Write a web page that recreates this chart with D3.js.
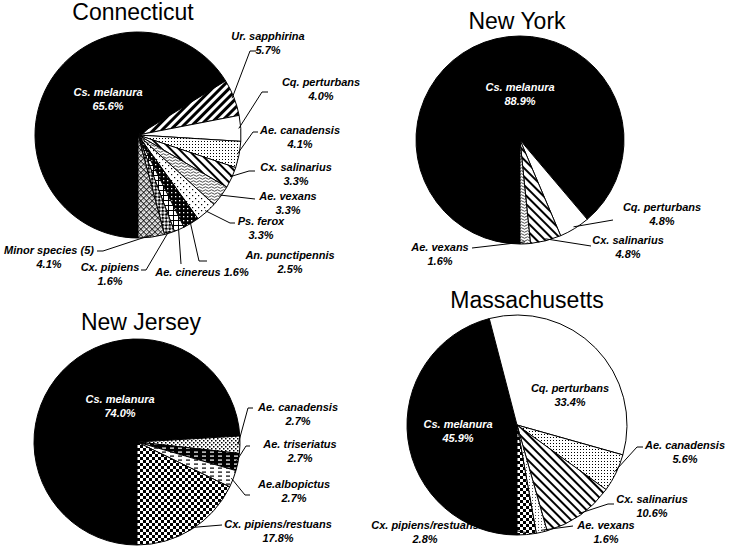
<!DOCTYPE html>
<html>
<head>
<meta charset="utf-8">
<script src="https://cdn.jsdelivr.net/npm/d3@7"></script>
<style>
  html, body { margin: 0; padding: 0; background: #fff; }
  svg { display: block; }
  .title { font-family: "Liberation Sans", Arial, sans-serif; font-size: 23px; fill: #000; }
  .lbl { font-family: "Liberation Sans", Arial, sans-serif; font-size: 11px; font-weight: bold; font-style: italic; fill: #000; }
  .lbl-in { font-family: "Liberation Sans", Arial, sans-serif; font-size: 11px; font-weight: bold; font-style: italic; fill: #fff; }
</style>
</head>
<body>
<svg id="chart" width="730" height="554"></svg>
<script>
// ---------------- DATA ----------------
const ctCategories = ["Cs. melanura", "Ur. sapphirina", "Cq. perturbans", "Ae. canadensis", "Cx. salinarius",
  "Ae. vexans", "Ps. ferox", "An. punctipennis", "Ae. cinereus", "Cx. pipiens", "Minor species (5)"];
const ctValues = [65.6, 5.7, 4.0, 4.1, 3.3, 3.3, 3.3, 2.5, 1.6, 1.6, 4.1];

const nyCategories = ["Cs. melanura", "Cq. perturbans", "Cx. salinarius", "Ae. vexans"];
const nyValues = [88.9, 4.8, 4.8, 1.6];

const njCategories = ["Cs. melanura", "Ae. canadensis", "Ae. triseriatus", "Ae.albopictus", "Cx. pipiens/restuans"];
const njValues = [74.0, 2.7, 2.7, 2.7, 17.8];

const maCategories = ["Cs. melanura", "Cq. perturbans", "Ae. canadensis", "Cx. salinarius", "Ae. vexans", "Cx. pipiens/restuans"];
const maValues = [45.9, 33.4, 5.6, 10.6, 1.6, 2.8];

const stateTitles = ["Connecticut", "New York", "New Jersey", "Massachusetts"];

// ---------------- STYLE / LAYOUT ----------------
const ctFills = ["black", "stripeFwdThick", "white", "fineDots", "stripeBack", "wavy", "sparseDots", "darkDots", "grid", "checkDiag", "trellis"];
const nyFills = ["black", "white", "stripeBack", "wavy"];
const njFills = ["black", "denseDots", "darkDash", "lightDash", "checker"];
const maFills = ["black", "white", "fineDots", "stripeBack", "lightDots", "checker"];

const layouts = [
  { cx: 138, cy: 135, r: 103, title: { x: 133, y: 20 },
    inside: [{ i: 0, x: 108, y: 96 }],
    outside: [
      { i: 1, x: 268, y: 40, pts: [[256, 51], [250, 51]] },
      { i: 2, x: 321, y: 86, pts: [[268, 92], [262, 92]] },
      { i: 3, x: 300, y: 134, pts: [[258, 132], [253, 132]] },
      { i: 4, x: 296, y: 171, pts: [[255, 171], [249, 171]] },
      { i: 5, x: 288, y: 200, pts: [[255, 199]] },
      { i: 6, x: 261, y: 225, pts: [[235, 223], [230, 223]] },
      { i: 7, x: 290, y: 259, pts: [[207, 261], [199, 261]] },
      { i: 8, x: 202, y: 276, single: true, pts: [[181, 264]] },
      { i: 9, x: 110, y: 271, pts: [[141, 270], [146, 270]] },
      { i: 10, x: 49, y: 254, pts: [[97, 251], [103, 251]] }
    ] },
  { cx: 520, cy: 140, r: 104, title: { x: 517, y: 29 },
    inside: [{ i: 0, x: 520, y: 91 }],
    outside: [
      { i: 1, x: 662, y: 211, pts: [[613, 220]] },
      { i: 2, x: 628, y: 244, pts: [[591, 246]] },
      { i: 3, x: 440, y: 251, pts: [[472, 248]] }
    ] },
  { cx: 137, cy: 442, r: 103, title: { x: 141, y: 330 },
    inside: [{ i: 0, x: 120, y: 403 }],
    outside: [
      { i: 1, x: 298, y: 411, pts: [[253, 408], [248, 408]] },
      { i: 2, x: 300, y: 448, pts: [[250, 446], [246, 446]] },
      { i: 3, x: 294, y: 488, pts: [[250, 495], [245, 495]] },
      { i: 4, x: 278, y: 528, pts: [[222, 525]] }
    ] },
  { cx: 517, cy: 425, r: 110, title: { x: 527, y: 308 },
    inside: [{ i: 0, x: 458, y: 428 }, { i: 1, x: 570, y: 392 }],
    outside: [
      { i: 2, x: 685, y: 449, pts: [[643, 447], [637, 447]] },
      { i: 3, x: 652, y: 503, pts: [[614, 504], [608, 504]] },
      { i: 4, x: 606, y: 529, pts: [[573, 526]] },
      { i: 5, x: 425, y: 529, pts: [[484, 525]] }
    ] }
];

const datasets = [
  { cats: ctCategories, vals: ctValues, fills: ctFills },
  { cats: nyCategories, vals: nyValues, fills: nyFills },
  { cats: njCategories, vals: njValues, fills: njFills },
  { cats: maCategories, vals: maValues, fills: maFills }
];

// ---------------- PATTERNS ----------------
const svg = d3.select("#chart");
const defs = svg.append("defs");

function pat(id, w, h, transform) {
  const p = defs.append("pattern").attr("id", id).attr("patternUnits", "userSpaceOnUse")
    .attr("width", w).attr("height", h);
  if (transform) p.attr("patternTransform", transform);
  return p;
}
// thick "/" stripes
{ const p = pat("stripeFwdThick", 6, 6, "rotate(45)");
  p.append("rect").attr("width", 6).attr("height", 6).attr("fill", "#fff");
  p.append("rect").attr("width", 3).attr("height", 6).attr("fill", "#000"); }
// "\" stripes
{ const p = pat("stripeBack", 6, 6, "rotate(-45)");
  p.append("rect").attr("width", 6).attr("height", 6).attr("fill", "#fff");
  p.append("rect").attr("width", 2).attr("height", 6).attr("fill", "#000"); }
// fine dots
{ const p = pat("fineDots", 3, 3);
  p.append("rect").attr("width", 3).attr("height", 3).attr("fill", "#fff");
  p.append("rect").attr("width", 1).attr("height", 1).attr("fill", "#000"); }
// dense dots (NJ canadensis)
{ const p = pat("denseDots", 4, 4);
  p.append("rect").attr("width", 4).attr("height", 4).attr("fill", "#fff");
  p.append("rect").attr("width", 1.5).attr("height", 1.5).attr("fill", "#000");
  p.append("rect").attr("x", 2).attr("y", 2).attr("width", 1.5).attr("height", 1.5).attr("fill", "#000"); }
// light dots
{ const p = pat("lightDots", 3, 3);
  p.append("rect").attr("width", 3).attr("height", 3).attr("fill", "#fff");
  p.append("rect").attr("width", 1).attr("height", 1).attr("fill", "#555"); }
// sparse dots
{ const p = pat("sparseDots", 6, 6);
  p.append("rect").attr("width", 6).attr("height", 6).attr("fill", "#fff");
  p.append("rect").attr("width", 1.2).attr("height", 1.2).attr("fill", "#000");
  p.append("rect").attr("x", 3).attr("y", 3).attr("width", 1.2).attr("height", 1.2).attr("fill", "#000"); }
// dark dots
{ const p = pat("darkDots", 4, 4);
  p.append("rect").attr("width", 4).attr("height", 4).attr("fill", "#000");
  p.append("rect").attr("x", 1).attr("y", 1).attr("width", 1.3).attr("height", 1.3).attr("fill", "#fff"); }
// wavy
{ const p = pat("wavy", 6, 3);
  p.append("rect").attr("width", 6).attr("height", 3).attr("fill", "#fff");
  p.append("path").attr("d", "M0 1.5 Q1.5 0 3 1.5 T6 1.5").attr("fill", "none").attr("stroke", "#000").attr("stroke-width", 0.7); }
// grid
{ const p = pat("grid", 5, 5);
  p.append("rect").attr("width", 5).attr("height", 5).attr("fill", "#fff");
  p.append("rect").attr("width", 5).attr("height", 1).attr("fill", "#000");
  p.append("rect").attr("width", 1).attr("height", 5).attr("fill", "#000"); }
// checker
{ const p = pat("checker", 6, 6);
  p.append("rect").attr("width", 6).attr("height", 6).attr("fill", "#fff");
  p.append("rect").attr("width", 3).attr("height", 3).attr("fill", "#000");
  p.append("rect").attr("x", 3).attr("y", 3).attr("width", 3).attr("height", 3).attr("fill", "#000"); }
// diagonal checker
{ const p = pat("checkDiag", 5, 5, "rotate(45)");
  p.append("rect").attr("width", 5).attr("height", 5).attr("fill", "#fff");
  p.append("rect").attr("width", 2.5).attr("height", 2.5).attr("fill", "#000");
  p.append("rect").attr("x", 2.5).attr("y", 2.5).attr("width", 2.5).attr("height", 2.5).attr("fill", "#000"); }
// trellis (minor species)
{ const p = pat("trellis", 4, 4, "rotate(45)");
  p.append("rect").attr("width", 4).attr("height", 4).attr("fill", "#fff");
  p.append("rect").attr("width", 4).attr("height", 0.8).attr("fill", "#000");
  p.append("rect").attr("width", 0.8).attr("height", 4).attr("fill", "#000");
  p.append("rect").attr("x", 1.6).attr("y", 1.6).attr("width", 1).attr("height", 1).attr("fill", "#000"); }
// dark dashes
{ const p = pat("darkDash", 8, 4);
  p.append("rect").attr("width", 8).attr("height", 4).attr("fill", "#000");
  p.append("rect").attr("x", 1).attr("y", 1.5).attr("width", 4).attr("height", 1.2).attr("fill", "#fff"); }
// light dashes
{ const p = pat("lightDash", 8, 4);
  p.append("rect").attr("width", 8).attr("height", 4).attr("fill", "#fff");
  p.append("rect").attr("x", 1).attr("y", 1.5).attr("width", 4).attr("height", 1.2).attr("fill", "#000"); }

function fillFor(key) {
  if (key === "black") return "#000";
  if (key === "white") return "#fff";
  return "url(#" + key + ")";
}

// ---------------- DRAW ----------------
const pie = d3.pie().sort(null).startAngle(Math.PI).endAngle(3 * Math.PI).value(d => d.value);

datasets.forEach((ds, k) => {
  const L = layouts[k];
  const data = ds.cats.map((c, i) => ({ cat: c, value: ds.vals[i], fill: ds.fills[i] }));
  const arcs = pie(data);
  const arc = d3.arc().innerRadius(0).outerRadius(L.r);
  const g = svg.append("g").attr("transform", `translate(${L.cx},${L.cy})`);

  g.selectAll("path.slice").data(arcs).enter().append("path")
    .attr("class", "slice")
    .attr("d", arc)
    .attr("fill", d => fillFor(d.data.fill))
    .attr("stroke", "#000").attr("stroke-width", 1).attr("stroke-linejoin", "round");

  svg.append("text").attr("class", "title")
    .attr("x", L.title.x).attr("y", L.title.y).attr("text-anchor", "middle")
    .text(stateTitles[k]);

  const pctFmt = v => d3.format(".1f")(v) + "%";

  L.inside.forEach(o => {
    const d = arcs[o.i];
    const t = svg.append("text").attr("class", d.data.fill === "black" ? "lbl-in" : "lbl")
      .attr("text-anchor", "middle");
    t.append("tspan").attr("x", o.x).attr("y", o.y).text(d.data.cat);
    t.append("tspan").attr("x", o.x).attr("y", o.y + 14).text(pctFmt(d.data.value));
  });

  L.outside.forEach(o => {
    const d = arcs[o.i];
    const mid = (d.startAngle + d.endAngle) / 2;
    const ex = L.cx + Math.sin(mid) * (L.r - 2);
    const ey = L.cy - Math.cos(mid) * (L.r - 2);
    const pts = o.pts.concat([[ex, ey]]);
    svg.append("path").attr("d", d3.line()(pts))
      .attr("fill", "none").attr("stroke", "#000").attr("stroke-width", 1);
    const t = svg.append("text").attr("class", "lbl").attr("text-anchor", "middle");
    if (o.single) {
      t.append("tspan").attr("x", o.x).attr("y", o.y).text(d.data.cat + " " + pctFmt(d.data.value));
    } else {
      t.append("tspan").attr("x", o.x).attr("y", o.y).text(d.data.cat);
      t.append("tspan").attr("x", o.x).attr("y", o.y + 14).text(pctFmt(d.data.value));
    }
  });
});
</script>
</body>
</html>
